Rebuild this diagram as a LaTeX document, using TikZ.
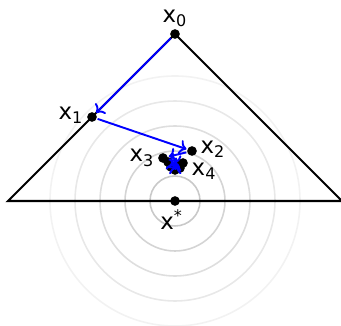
\documentclass[tikz,border=0pt]{standalone}
\usepackage{fontspec}
\setmainfont{DejaVu Sans}
\usepackage{tikz}
\usetikzlibrary{arrows.meta, positioning}

\begin{document}
\begin{tikzpicture}[scale=0.5, line width=1.2pt,
    dot/.style={circle, fill=black, inner sep=0pt, minimum size=5.5pt},
    lbl/.style={font=\fontsize{13}{15}\selectfont, inner sep=1pt},
    iter/.style={->, blue, line width=1.1pt}]
            \useasboundingbox (-7,-4.96) rectangle (6.64,8.04);
            % level sets
            \foreach \r/\c in {5/5, 4/9, 3/13, 2/17, 1/21}
                \draw[black!\c, line width=0.9pt] (0,0) circle (\r);
            % feasible set
            \coordinate (left) at (-6.68,0);
            \coordinate (right) at (6.68,0);
            \node[dot] (x0) at (0,6.68) {};
            \draw (left) -- (x0.center) -- (right) -- cycle;
            \node[dot] (xs) at (0,0) {};
            % iterates
            \node[dot] (x1) at (-3.32,3.36) {};
            \node[dot] (x2) at (0.68,2.0) {};
            \node[dot] (x3) at (-0.48,1.72) {};
            \node[dot] (x4) at (0.32,1.52) {};
            \node[dot] (x5) at (-0.28,1.56) {};
            \node[dot] (x6) at (0.2,1.32) {};
            \node[dot] (x7) at (-0.16,1.36) {};
            \node[dot] (x8) at (0.12,1.46) {};
            \node[dot] (x9) at (0,1.24) {};
            \draw[iter] (x0) -- (x1);
            \draw[iter] (x1) -- (x2);
            \draw[iter] (x2) -- (x3);
            \draw[iter] (x3) -- (x4);
            \draw[iter] (x4) -- (x5);
            \draw[iter] (x5) -- (x6);
            \draw[iter] (x6) -- (x7);
            \draw[iter] (x7) -- (x8);
            \draw[iter] (x8) -- (x9);
            % labels
            \node[lbl, above=-1pt of x0] {x\textsubscript{0}};
            \node[lbl, left=0pt of x1, yshift=1pt] {x\textsubscript{1}};
            \node[lbl, right=0pt of x2, yshift=1pt] {x\textsubscript{2}};
            \node[lbl, left=0pt of x3] {x\textsubscript{3}};
            \node[lbl, below right=-4pt and 1pt of x4] {x\textsubscript{4}};
            \node[lbl, below=0pt of xs, xshift=-2pt] {x\textsuperscript{*}};
        \end{tikzpicture}
\end{document}
